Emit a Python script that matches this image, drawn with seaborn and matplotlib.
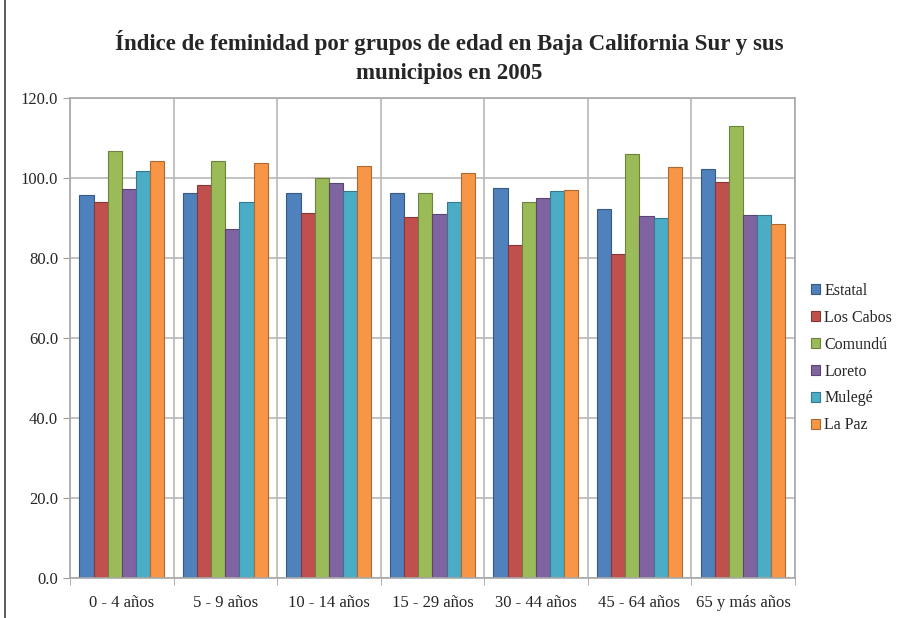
import numpy as np
import pandas as pd
import matplotlib.pyplot as plt
import matplotlib.colors as mcolors
import seaborn as sns

grupos = ['0 - 4 años', '5 - 9 años', '10 - 14 años', '15 - 29 años',
          '30 - 44 años', '45 - 64 años', '65 y más años']
municipios = ['Estatal', 'Los Cabos', 'Comundú', 'Loreto', 'Mulegé', 'La Paz']

estatal = [95.8, 96.3, 96.3, 96.3, 97.4, 92.3, 102.3]
los_cabos = [93.9, 98.1, 91.3, 90.3, 83.3, 80.9, 98.9]
comundu = [106.7, 104.3, 99.9, 96.3, 93.9, 105.9, 112.9]
loreto = [97.3, 87.1, 98.6, 91.0, 95.0, 90.4, 90.6]
mulege = [101.7, 93.9, 96.8, 93.9, 96.7, 90.0, 90.6]
la_paz = [104.2, 103.8, 102.9, 101.3, 96.9, 102.8, 88.5]

colores = ['#4F81BD', '#C0504D', '#9BBB59', '#8064A2', '#4BACC6', '#F79646']

df = pd.DataFrame({'Estatal': estatal, 'Los Cabos': los_cabos, 'Comundú': comundu,
                   'Loreto': loreto, 'Mulegé': mulege, 'La Paz': la_paz},
                  index=grupos)
df = df.reset_index().melt(id_vars='index', var_name='Municipio', value_name='Indice')
df = df.rename(columns={'index': 'Grupo'})

sns.set_style('white')
plt.rcParams['font.family'] = ['Liberation Serif', 'DejaVu Serif']

fig = plt.figure(figsize=(8.98, 6.18), dpi=100)
ax = fig.add_axes([0.078, 0.0647, 0.807, 0.777])

sns.barplot(data=df, x='Grupo', y='Indice', hue='Municipio', order=grupos,
            hue_order=municipios, palette=colores, width=0.82, saturation=1,
            linewidth=0.8, ax=ax)

# darker edge per bar, like the original
for p in ax.patches:
    fc = np.array(mcolors.to_rgb(p.get_facecolor()))
    p.set_edgecolor(fc * 0.7)

ax.set_ylim(0, 120)
ax.set_xlim(-0.5, len(grupos) - 0.5)
ax.set_yticks(np.arange(0, 121, 20))
ax.set_yticklabels([f'{v:.1f}' for v in np.arange(0, 121, 20)], fontsize=12)
ax.set_xticks(range(len(grupos)))
ax.set_xticklabels(grupos, fontsize=12)
ax.set_xticks(np.arange(-0.5, len(grupos)), minor=True)
ax.tick_params(axis='x', which='major', length=0, pad=12)
ax.tick_params(axis='x', which='minor', length=5, color='#A0A0A0', direction='out', bottom=True)
ax.tick_params(axis='y', length=5, color='#A0A0A0', direction='out', left=True)
ax.set_axisbelow(True)
ax.yaxis.grid(True, color='#B8B8B8', linewidth=1.2)
ax.xaxis.grid(True, which='minor', color='#B8B8B8', linewidth=1.2)
ax.xaxis.grid(False, which='major')
for s in ax.spines.values():
    s.set_color('#A8A8A8')
    s.set_linewidth(1.2)
ax.set_xlabel('')
ax.set_ylabel('')

leg = ax.legend(loc='center left', bbox_to_anchor=(1.0, 0.458), frameon=False,
                fontsize=11.5, handlelength=0.6, handleheight=0.6,
                handletextpad=0.25, labelspacing=0.68, borderaxespad=0.6)

fig.text(0.5, 0.952, 'Índice de feminidad por grupos de edad en Baja California Sur y sus\nmunicipios en 2005',
         ha='center', va='top', fontsize=16.5, fontweight='bold', linespacing=1.5)

fig.add_artist(plt.Line2D([0.006, 0.006], [0, 1], color='#404040', linewidth=1.2))

fig.savefig('out.png', dpi=100)
